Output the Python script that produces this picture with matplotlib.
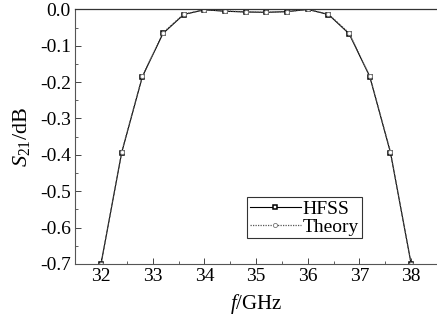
import matplotlib.pyplot as plt
from matplotlib.ticker import MultipleLocator

# The data
freq = [32.0, 32.4, 32.8, 33.2, 33.6, 34.0, 34.4, 34.8, 35.2, 35.6, 36.0, 36.4, 36.8, 37.2, 37.6, 38.0]
hfss = [-0.700, -0.394, -0.185, -0.066, -0.014, -0.001, -0.005, -0.007, -0.008, -0.006, 0.000,
        -0.014, -0.067, -0.185, -0.394, -0.700]
theory = [-0.700, -0.392, -0.184, -0.064, -0.013, -0.001, -0.004, -0.007, -0.008, -0.006, 0.000,
          -0.013, -0.065, -0.184, -0.392, -0.700]

plt.rcParams['font.family'] = ['Liberation Serif', 'DejaVu Serif']
plt.rcParams['mathtext.fontset'] = 'custom'
plt.rcParams['mathtext.rm'] = 'Liberation Serif'
plt.rcParams['mathtext.it'] = 'Liberation Serif:italic'

fig = plt.figure(figsize=(4.37, 3.25), dpi=100)
ax = fig.add_axes([0.172, 0.188, 0.828, 0.783])

ax.plot(freq, hfss, color="black", lw=0.8, marker="s", markersize=3.2,
        markerfacecolor="white", markeredgecolor="black", markeredgewidth=1.1, label="HFSS")
ax.plot(freq, theory, color="#555555", lw=0.9, ls=(0, (1, 1)), marker="o", markersize=3,
        markerfacecolor="white", markeredgecolor="#777777", markeredgewidth=0.6, label="Theory")

ax.set_xlim(31.5, 38.5)
ax.set_ylim(-0.7, 0.0)
ax.xaxis.set_major_locator(MultipleLocator(1))
ax.xaxis.set_minor_locator(MultipleLocator(0.5))
ax.yaxis.set_major_locator(MultipleLocator(0.1))
ax.yaxis.set_minor_locator(MultipleLocator(0.05))
ax.yaxis.set_major_formatter(plt.FuncFormatter(lambda v, p: "%.1f" % (0.0 if abs(v) < 1e-9 else v)))

ax.tick_params(which="both", direction="in", colors="#444444", labelcolor="black", labelsize=14)
ax.tick_params(which="major", length=4, width=0.7)
ax.tick_params(which="minor", length=2, width=0.6)
ax.tick_params(axis="x", pad=3)
ax.tick_params(axis="y", pad=3)

ax.spines["right"].set_visible(False)
for s in ["left", "bottom"]:
    ax.spines[s].set_color("#555555")
    ax.spines[s].set_linewidth(0.8)
ax.spines["top"].set_color("#333333")
ax.spines["top"].set_linewidth(0.9)

ax.set_xlabel("$f$/GHz", fontsize=15, labelpad=5)
ax.set_ylabel(r"$S_{\mathrm{21}}$/dB", fontsize=16, labelpad=6)

leg = ax.legend(loc="lower left", bbox_to_anchor=(0.475, 0.10), frameon=True, fancybox=False,
                fontsize=14, handlelength=2.6, handletextpad=0.1, borderpad=0.15,
                labelspacing=0.0, borderaxespad=0.0)
leg.get_frame().set_edgecolor("black")
leg.get_frame().set_linewidth(0.8)

fig.savefig("out.png", dpi=100)
